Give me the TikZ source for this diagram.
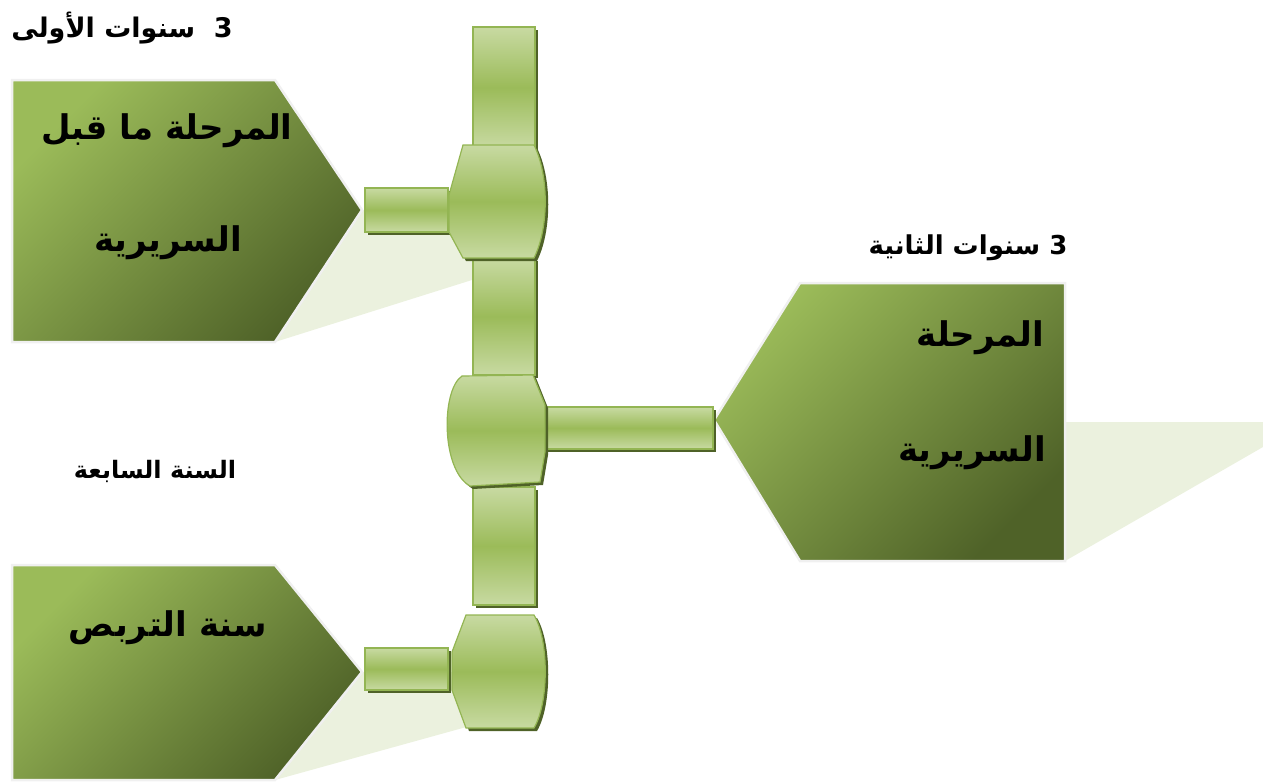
\documentclass[tikz,border=0pt]{standalone}
\usepackage{fontspec}
\TeXXeTstate=1
\newfontfamily\arabicfont[Script=Arabic]{DejaVu Sans}
\definecolor{gLight}{HTML}{C8DAA2}
\definecolor{gMid}{HTML}{9BBB59}
\definecolor{gDark}{HTML}{4F6228}
\definecolor{gPale}{HTML}{EBF1DE}
\definecolor{gLine}{HTML}{93B553}
\newcommand{\gpiece}[1]{\fill[shad,shift={(3,3)}] #1; \path[bar] #1;}
\begin{document}
\begin{tikzpicture}[x=1pt,y=-1pt,
 pent/.style={draw=black!6, line width=2.5pt, top color=gMid, bottom color=gDark, shading angle=45},
 beam/.style={fill=gPale},
 bar/.style={draw=gLine, line width=1.2pt, top color=gLight, bottom color=gLight, middle color=gMid},
 shad/.style={fill=gDark},
 bigtxt/.style={font=\arabicfont\bfseries\fontsize{34}{40}\selectfont, text=black, inner sep=0pt},
 captxt/.style={font=\arabicfont\bfseries\fontsize{26}{30}\selectfont, text=black, inner sep=0pt}]
\useasboundingbox (0,0) rectangle (1263,784);
% pale beams
\fill[beam] (362,210) -- (472,210) -- (472,280) -- (275,342) -- cycle;
\fill[beam] (1065,422) -- (1263,422) -- (1263,447) -- (1065,561) -- cycle;
\fill[beam] (362,672) -- (470,672) -- (470,726) -- (275,780) -- cycle;
% pentagons
\path[pent] (12,80) -- (275,80) -- (362,210) -- (275,342) -- (12,342) -- cycle;
\path[pent] (800,283) -- (1065,283) -- (1065,561) -- (800,561) -- (714,420) -- cycle;
\path[pent] (12,565) -- (275,565) -- (362,672) -- (275,780) -- (12,780) -- cycle;
% connectors
\gpiece{(365,188) rectangle (448,232)}
\gpiece{(545,407) rectangle (713,449)}
\gpiece{(365,648) rectangle (448,690)}
% columns
\gpiece{(473,27) rectangle (535,148)}
\gpiece{(473,258) rectangle (535,375)}
\gpiece{(473,487) rectangle (535,605)}
% hubs
\gpiece{(463,145) -- (534,145) .. controls (549,175) and (549,228) .. (534,258) -- (463,258) -- (449,232) -- (449,195) -- cycle}
\gpiece{(462,376) -- (533,375) -- (545,405) -- (545,452) -- (540,482) -- (470,486) .. controls (441,470) and (441,390) .. (462,376) -- cycle}
\gpiece{(466,615) -- (534,615) .. controls (549,640) and (549,703) .. (534,728) -- (466,728) -- (452,690) -- (452,652) -- cycle}
% texts
\node[captxt, font=\arabicfont\bfseries\fontsize{27}{31}\selectfont] (t1) at (122,28) {\beginR 3 \ سنوات الأولى\endR};
\node[bigtxt] (p1a) at (167,131) {\beginR المرحلة ما قبل\endR};
\node[bigtxt] (p1b) at (168,243) {\beginR السريرية\endR};
\node[captxt] (t2) at (968,248) {\beginR 3 سنوات الثانية\endR};
\node[bigtxt, anchor=east] (p2a) at (1044,338) {\beginR المرحلة\endR};
\node[bigtxt, anchor=east] (p2b) at (1046,453) {\beginR السريرية\endR};
\node[captxt, font=\arabicfont\bfseries\fontsize{24}{28}\selectfont] (t3) at (155,471) {\beginR السنة السابعة\endR};
\node[bigtxt] (p3) at (168,628) {\beginR سنة التربص\endR};
\end{tikzpicture}
\end{document}
